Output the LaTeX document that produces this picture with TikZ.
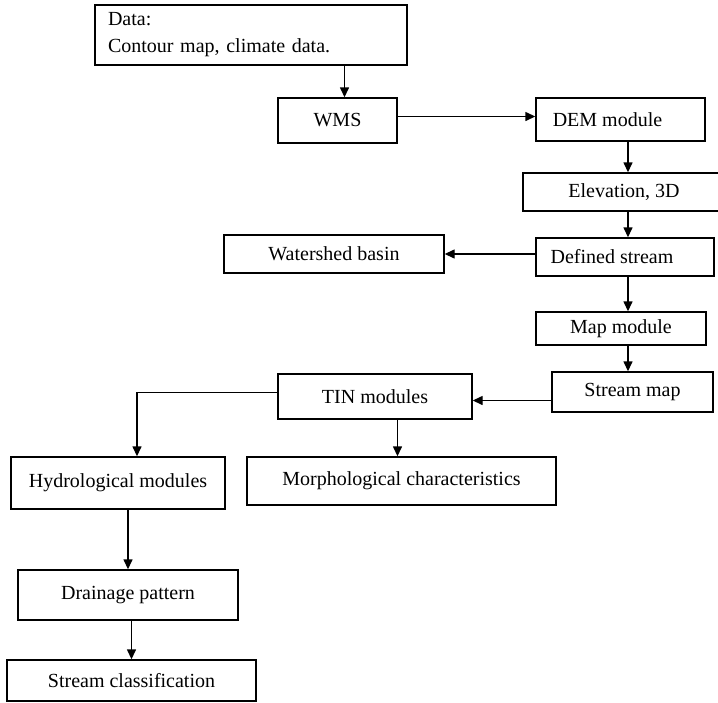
\documentclass[tikz,border=0pt]{standalone}
\usepackage{fontspec}
\setmainfont{Liberation Serif}
\usetikzlibrary{arrows.meta}
\tikzset{
	box/.style={draw, line width=0.7pt, inner sep=0pt, font=\fontsize{10}{12}\selectfont},
	arr/.style={line width=0.7pt, -{Triangle[length=5pt,width=4.5pt]}},
}
\begin{document}
\begin{tikzpicture}[x=0.5pt, y=-0.5pt]
			%%%%% START %%%%%
			\useasboundingbox (0,0) rectangle (718,702);
			
			\node[box, minimum width=156pt, minimum height=30pt, text width=143pt, inner xsep=6.5pt, align=left, font=\fontsize{10}{13.5}\selectfont] (data) at (251,35) {Data:\\Contour map, climate data.};
			\node[box, minimum width=59.5pt, minimum height=22.5pt] (wms) at (337.5,120.5) {WMS};
			\node[box, minimum width=84.5pt, minimum height=21.5pt] (dem) at (620.5,119.5) {DEM module\hspace*{13pt}};
			\node[box, minimum width=101pt, minimum height=19pt] (elev) at (624,192) {Elevation, 3D};
			\node[box, minimum width=110pt, minimum height=19pt] (wshed) at (334,254) {Watershed basin};
			\node[box, minimum width=89pt, minimum height=19pt] (defd) at (625,257) {Defined stream\hspace*{13pt}};
			\node[box, minimum width=85pt, minimum height=16.5pt] (mapm) at (621,328.5) {Map module};
			\node[box, minimum width=80.5pt, minimum height=20pt] (smap) at (632.5,392) {Stream map};
			\node[box, minimum width=97pt, minimum height=22.5pt] (tin) at (375,396.5) {TIN modules};
			\node[box, minimum width=154.5pt, minimum height=24pt] (morph) at (401.5,481) {Morphological characteristics};
			\node[box, minimum width=107pt, minimum height=26pt] (hydro) at (118,483) {Hydrological modules};
			\node[box, minimum width=110pt, minimum height=25pt] (drain) at (128,595) {Drainage pattern};
			\node[box, minimum width=124.5pt, minimum height=20.5pt] (sclass) at (131.5,680.5) {Stream classification};
			
			\coordinate (spine) at (628,0);
			
			\draw[arr] ([xshift=3.5pt]wms.north |- data.south) -- ([xshift=3.5pt]wms.north);
			\draw[arr] ([yshift=2pt]wms.east) -- ([yshift=2pt]wms.east -| dem.west);
			\draw[arr] (dem.south -| spine) -- (elev.north -| spine);
			\draw[arr] (elev.south -| spine) -- (defd.north -| spine);
			\draw[arr] (defd.west |- wshed.east) -- (wshed.east);
			\draw[arr] (defd.south -| spine) -- (mapm.north -| spine);
			\draw[arr] (mapm.south -| spine) -- (smap.north -| spine);
			\draw[arr] ([yshift=-2pt]tin.east -| smap.west) -- ([yshift=-2pt]tin.east);
			\draw[arr] ([yshift=2pt]tin.west) -| ([xshift=9.5pt]hydro.north);
			\draw[arr] ([xshift=-2pt]morph.north |- tin.south) -- ([xshift=-2pt]morph.north);
			\draw[arr] (hydro.south -| drain.north) -- (drain.north);
			\draw[arr] (drain.south -| sclass.north) -- (sclass.north);
			
			%%%%% END %%%%%
\end{tikzpicture}
\end{document}
